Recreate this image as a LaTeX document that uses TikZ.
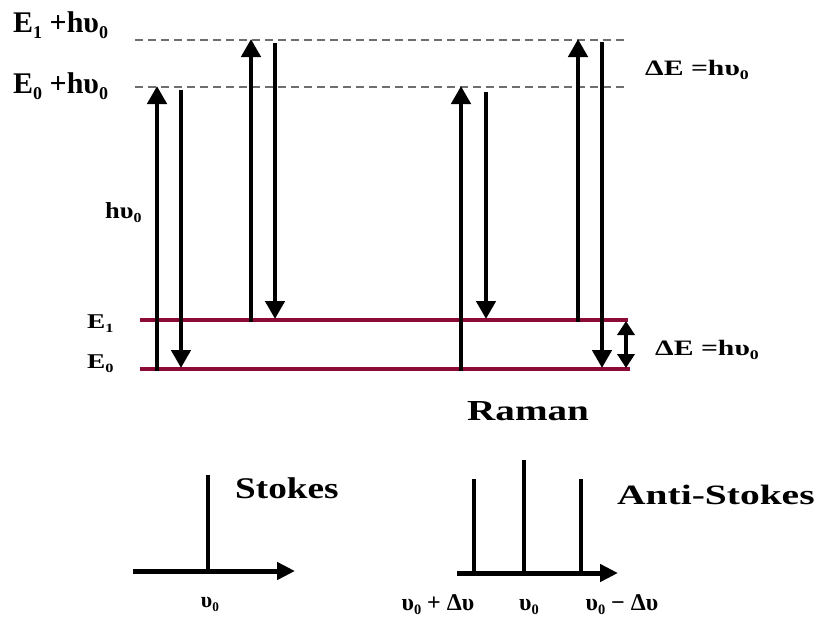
\documentclass[tikz,border=0pt]{standalone}
\usepackage{fontspec}
\setmainfont{Liberation Serif}
\usetikzlibrary{arrows.meta}
\definecolor{levelred}{RGB}{139,10,55}
\definecolor{dashgray}{RGB}{110,110,110}
\newcommand{\lsub}[1]{\raisebox{-0.45ex}{\scalebox{0.6}{#1}}}
\begin{document}
\begin{tikzpicture}[x=1pt,y=-1pt,
  lvl/.style={line width=4.5pt,levelred},
  virt/.style={line width=2pt,dashgray,dash pattern=on 8pt off 5pt},
  trans/.style={line width=4.5pt,-{Triangle[length=18pt,width=19pt]}},
  spec/.style={line width=4.5pt},
  axisline/.style={line width=5pt,-{Triangle[length=18pt,width=17pt]}},
  lab/.style={inner sep=0pt,anchor=base west,font=\bfseries},
  clab/.style={inner sep=0pt,anchor=base,font=\bfseries}]
\useasboundingbox (0,0) rectangle (819,625);
% levels
\coordinate (v1l) at (135,40);  \coordinate (v1r) at (625,40);
\coordinate (v0l) at (135,87);  \coordinate (v0r) at (625,87);
\coordinate (e1l) at (140,320); \coordinate (e1r) at (628,320);
\coordinate (e0l) at (140,369); \coordinate (e0r) at (630,369);
\draw[virt] (v1l) -- (v1r);
\draw[virt] (v0l) -- (v0r);
\draw[lvl] (e1l) -- (e1r);
\draw[lvl] (e0l) -- (e0r);
% transitions
\coordinate (a1s) at (157,371); \coordinate (a1e) at (157,86);
\coordinate (a2s) at (181,90);  \coordinate (a2e) at (181,368);
\coordinate (a3s) at (251,322); \coordinate (a3e) at (251,39);
\coordinate (a4s) at (275,43);  \coordinate (a4e) at (275,319);
\coordinate (a5s) at (461,371); \coordinate (a5e) at (461,86);
\coordinate (a6s) at (486,92);  \coordinate (a6e) at (486,319);
\coordinate (a7s) at (578,322); \coordinate (a7e) at (578,39);
\coordinate (a8s) at (602,42);  \coordinate (a8e) at (602,368);
\draw[trans] (a1s) -- (a1e);
\draw[trans] (a2s) -- (a2e);
\draw[trans] (a3s) -- (a3e);
\draw[trans] (a4s) -- (a4e);
\draw[trans] (a5s) -- (a5e);
\draw[trans] (a6s) -- (a6e);
\draw[trans] (a7s) -- (a7e);
\draw[trans] (a8s) -- (a8e);
\coordinate (dEt) at (626,321); \coordinate (dEb) at (626,368);
\draw[line width=4pt,{Triangle[length=14pt,width=17pt]}-{Triangle[length=14pt,width=17pt]}] (dEt) -- (dEb);
% labels
\node[lab,font=\bfseries\fontsize{30}{30}\selectfont] (l1) at (13,32) {E\lsub{1} +hυ\lsub{0}};
\node[lab,font=\bfseries\fontsize{30}{30}\selectfont] (l0) at (13,93) {E\lsub{0} +hυ\lsub{0}};
\node[lab,font=\bfseries\fontsize{23}{23}\selectfont] (hv) at (105,218) {\scalebox{1.15}[1]{hυ\lsub{0}}};
\node[lab,font=\bfseries\fontsize{21}{21}\selectfont] (le1) at (87,328) {\scalebox{1.3}[1]{E\lsub{1}}};
\node[lab,font=\bfseries\fontsize{21}{21}\selectfont] (le0) at (87,368) {\scalebox{1.3}[1]{E\lsub{0}}};
\node[lab,font=\bfseries\fontsize{22}{22}\selectfont] (dt) at (645,75) {\scalebox{1.35}[1]{ΔE =hυ\lsub{0}}};
\node[lab,font=\bfseries\fontsize{22}{22}\selectfont] (db) at (655,355) {\scalebox{1.35}[1]{ΔE =hυ\lsub{0}}};
\node[lab,font=\bfseries\fontsize{29}{29}\selectfont] (raman) at (467,420) {\scalebox{1.35}[1]{Raman}};
\node[lab,font=\bfseries\fontsize{30}{30}\selectfont] (stokes) at (235,498) {\scalebox{1.24}[1]{Stokes}};
\node[lab,font=\bfseries\fontsize{28}{28}\selectfont] (astokes) at (617,504) {\scalebox{1.41}[1]{Anti-Stokes}};
% Stokes spectrum
\coordinate (sa0) at (133,571); \coordinate (sa1) at (295,571);
\coordinate (sl0) at (208,571); \coordinate (sl1) at (208,475);
\draw[axisline] (sa0) -- (sa1);
\draw[spec] (sl0) -- (sl1);
\node[clab,font=\bfseries\fontsize{22}{22}\selectfont] (su) at (210,607) {υ\lsub{0}};
% Anti-Stokes spectrum
\coordinate (ta0) at (457,573); \coordinate (ta1) at (618,573);
\coordinate (tp0) at (474,573); \coordinate (tp1) at (474,479);
\coordinate (tc0) at (524,573); \coordinate (tc1) at (524,460);
\coordinate (tm0) at (581,573); \coordinate (tm1) at (581,479);
\draw[axisline] (ta0) -- (ta1);
\draw[spec] (tp0) -- (tp1);
\draw[spec] (tc0) -- (tc1);
\draw[spec] (tm0) -- (tm1);
\node[clab,font=\bfseries\fontsize{24}{24}\selectfont] (up) at (438,610) {υ\lsub{0} + Δυ};
\node[clab,font=\bfseries\fontsize{24}{24}\selectfont] (uc) at (529,610) {υ\lsub{0}};
\node[clab,font=\bfseries\fontsize{24}{24}\selectfont] (um) at (622,610) {υ\lsub{0} − Δυ};
\end{tikzpicture}
\end{document}
